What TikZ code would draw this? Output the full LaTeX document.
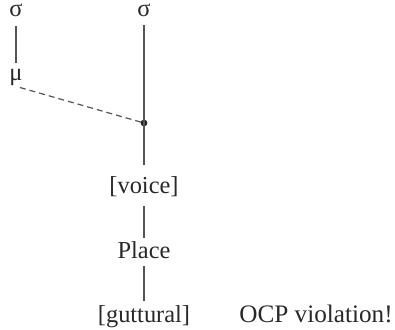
\documentclass[tikz,border=0pt]{standalone}
\usepackage{fontspec}
\setmainfont{Liberation Serif}
\usepackage{tikz}
\usetikzlibrary{positioning}
\definecolor{inkgray}{RGB}{40,40,40}
\definecolor{linegray}{RGB}{85,85,85}
\tikzset{
  seg/.style={text height=0.75em, text depth=0.25em, inner sep=0pt,
    anchor=base, font=\fontsize{12.2}{14}\selectfont, color=inkgray},
  assoc/.style={line width=0.6pt, color=linegray},
  delink/.style={line width=0.6pt, color=linegray, dash pattern=on 3pt off 2pt},
  root/.style={circle, fill=inkgray, inner sep=0pt, minimum size=3.4pt}
}
\begin{document}
\begin{tikzpicture}[x=0.5pt, y=-0.5pt]
  \useasboundingbox (0,0) rectangle (395,330);
  % syllables and mora
  \node[seg] (sigL) at (16,17) {σ};
  \node[seg] (sigR) at (144,17) {σ};
  \node[seg] (mu) at (16,81) {μ};
  \node[root] (rt) at (144,123) {};
  % feature tree
  \node[seg] (voice) at (144,194) {[voice]};
  \node[seg] (place) at (144,259) {Place};
  \node[seg] (gutt) at (144,322) {[guttural]};
  \node[seg, anchor=base west, font=\fontsize{12.6}{14}\selectfont] (ocp) at (239,322) {OCP violation!};
  % links
  \draw[assoc, shorten <=2pt, shorten >=1.5pt] (sigL.south) -- (mu.north);
  \draw[assoc, shorten <=1.5pt] (sigR.south) -- (rt.center);
  \draw[delink, shorten <=2pt] (mu.south) -- (rt.center);
  \draw[assoc, shorten >=7pt] (rt.center) -- (voice.north);
  \draw[assoc, shorten <=3.5pt, shorten >=3pt] (voice.south) -- (place.north);
  \draw[assoc, shorten <=1pt, shorten >=3pt] (place.south) -- (gutt.north);
\end{tikzpicture}
\end{document}
